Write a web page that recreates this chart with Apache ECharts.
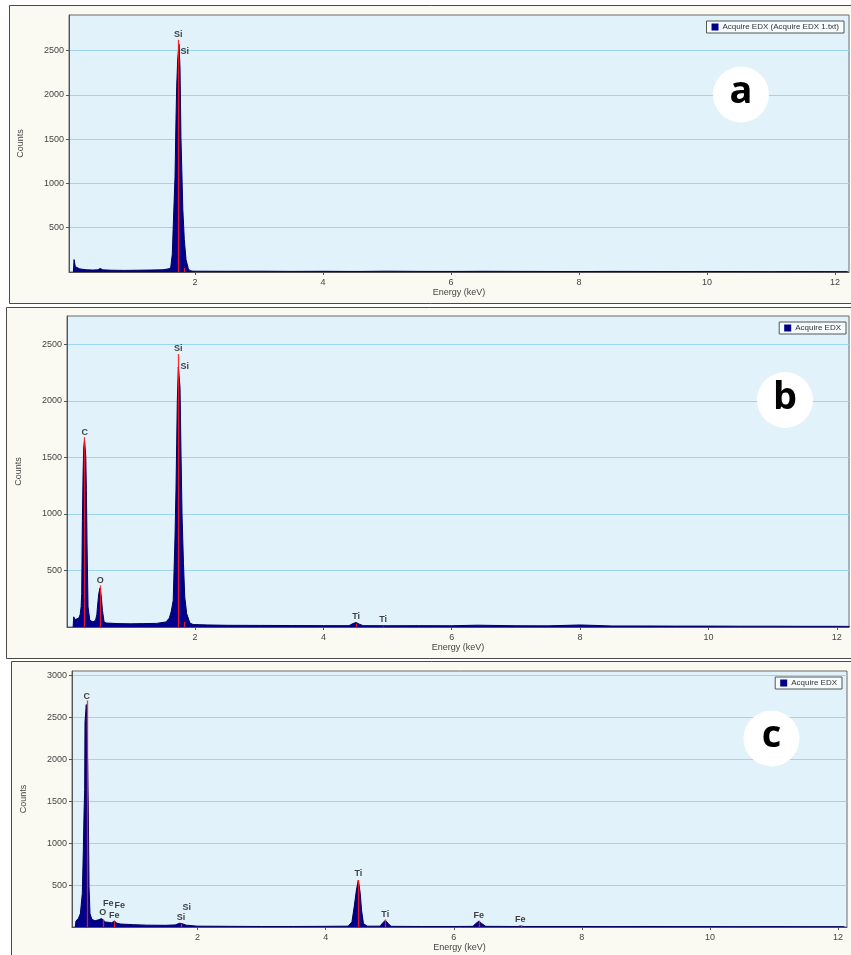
<!DOCTYPE html>
<html><head><meta charset="utf-8">
<script src="https://cdn.jsdelivr.net/npm/echarts@6/dist/echarts.min.js"></script>
<style>html,body{margin:0;padding:0;background:#fff}#c{width:851px;height:955px}</style>
</head><body><div id="c"></div>
<script>
// ---------- Panel a ----------
const energyA = [0.10,0.11,0.13,0.16,0.20,0.30,0.40,0.48,0.52,0.56,0.70,0.90,1.10,1.30,1.50,1.58,1.62,1.645,1.66,1.688,1.703,1.714,1.73,1.75,1.766,1.78,1.81,1.833,1.86,1.895,1.92,1.96,2.0,2.5,3.0,3.5,4.0,4.5,5.0,5.5,6.0,6.5,7.0,7.5,8.0,8.5,9.0,9.5,10.0,10.5,11.0,11.5,12.0,12.2];
const countA  = [0,140,60,40,35,25,22,24,40,24,20,18,20,22,25,35,45,200,515,1080,1720,2095,2404,2570,2302,1530,703,365,139,40,15,10,9,8,9,7,8,6,9,7,6,8,7,6,5,7,6,5,6,5,4,5,4,4];
const lineEnergyA = [1.74, 1.836];
const lineHeightA = [2620, 45];
const labelTextA = ['Si','Si'];
const labelEnergyA = [1.74, 1.84];
const labelCountA = [2680, 2490];

// ---------- Panel b ----------
const energyB = [0.10,0.11,0.13,0.16,0.19,0.21,0.225,0.234,0.245,0.255,0.266,0.278,0.297,0.307,0.318,0.333,0.36,0.41,0.45,0.47,0.48,0.50,0.52,0.54,0.557,0.583,0.62,0.80,1.00,1.20,1.40,1.55,1.60,1.63,1.66,1.688,1.703,1.714,1.724,1.74,1.755,1.766,1.78,1.797,1.82,1.84,1.87,1.92,1.97,2.2,2.5,3.0,3.5,4.0,4.4,4.46,4.51,4.56,4.62,5.0,5.5,6.0,6.4,7.0,7.5,8.0,8.5,9.0,9.5,10.0,10.5,11.0,11.5,12.0,12.2];
const countB  = [0,90,65,70,80,110,180,297,942,1340,1590,1650,1517,1208,707,177,60,45,60,110,177,295,345,265,147,44,35,30,28,30,32,45,80,140,236,795,1208,1620,2003,2300,2293,2120,1590,1001,560,265,118,35,22,18,15,14,13,12,12,30,40,25,12,11,12,11,16,11,10,18,9,9,8,8,7,7,6,6,5];
const lineEnergyB = [0.277, 0.525, 1.74, 1.836, 4.51, 4.93];
const lineHeightB = [1678, 368, 2415, 44, 30, 6];
const labelTextB = ['C','O','Si','Si','Ti','Ti'];
const labelEnergyB = [0.28, 0.525, 1.74, 1.84, 4.51, 4.93];
const labelCountB = [1722, 412, 2465, 2306, 95, 65];

// ---------- Panel c ----------
const energyC = [0.09,0.10,0.14,0.17,0.20,0.216,0.227,0.237,0.242,0.262,0.284,0.294,0.305,0.32,0.35,0.40,0.45,0.50,0.53,0.56,0.62,0.66,0.70,0.74,0.80,1.00,1.20,1.50,1.65,1.72,1.76,1.82,2.0,2.5,3.0,3.5,4.0,4.35,4.41,4.445,4.48,4.51,4.54,4.56,4.59,4.65,4.85,4.88,4.93,4.98,5.02,5.5,6.0,6.3,6.34,6.39,6.44,6.5,7.0,7.04,7.1,8.0,8.5,9.0,9.5,10.0,10.5,11.0,11.5,12.0,12.1];
const countC  = [0,70,104,160,400,920,1360,1640,2440,2650,1940,1360,480,160,90,75,85,100,95,60,55,50,72,45,35,28,22,20,25,45,40,22,10,8,6,6,8,10,60,240,440,560,400,200,40,10,10,40,80,40,8,6,6,8,40,68,40,8,6,12,6,6,5,6,5,5,4,5,4,4,4];
const lineEnergyC = [0.277, 0.525, 0.705, 1.74, 4.51, 4.93, 6.40, 7.06];
const lineHeightC = [2698, 90, 70, 40, 560, 90, 75, 12];
const labelTextC = ['C','O','Fe','Fe','Fe','Si','Si','Ti','Ti','Fe','Fe'];
const labelEnergyC = [0.27, 0.52, 0.606, 0.70, 0.784, 1.74, 1.83, 4.51, 4.93, 6.39, 7.04];
const labelCountC = [2746, 168, 280, 140, 260, 108, 232, 632, 152, 140, 89];

// ---------- Axes / legends ----------
const xTicks = [2, 4, 6, 8, 10, 12];
const yTicks = [500, 1000, 1500, 2000, 2500, 3000];
const legendNames = ['Acquire EDX (Acquire EDX 1.txt)', 'Acquire EDX', 'Acquire EDX'];
const panelLetters = ['a', 'b', 'c'];
const yMax = [2900, 2750, 3050];
const xRange = [[0.031, 12.22], [0.005, 12.19], [0.039, 12.14]];

const panels = [
  {e: energyA, c: countA, le: lineEnergyA, lh: lineHeightA, lt: labelTextA, lx: labelEnergyA, ly: labelCountA},
  {e: energyB, c: countB, le: lineEnergyB, lh: lineHeightB, lt: labelTextB, lx: labelEnergyB, ly: labelCountB},
  {e: energyC, c: countC, le: lineEnergyC, lh: lineHeightC, lt: labelTextC, lx: labelEnergyC, ly: labelCountC}
];

const gridPos = [
  {left: 69, top: 15, width: 780, height: 257},
  {left: 67, top: 316, width: 782, height: 311},
  {left: 72, top: 671, width: 775, height: 256}
];
const FONT = 'Liberation Sans';
const NAVY = '#00008b';

const option = {
  animation: false,
  backgroundColor: '#ffffff',
  textStyle: {fontFamily: FONT},
  grid: gridPos.map(g => Object.assign({show: true, backgroundColor: '#e1f2fb', borderColor: '#6b6b6b', borderWidth: 1, containLabel: false}, g)),
  xAxis: panels.map((p, i) => ({
    type: 'value', gridIndex: i, min: xRange[i][0], max: xRange[i][1],
    name: 'Energy (keV)', nameLocation: 'middle', nameGap: 16,
    nameTextStyle: {fontSize: 9, color: '#444', fontFamily: FONT},
    axisLine: {show: true, lineStyle: {color: '#555'}},
    axisTick: {show: true, length: 3, lineStyle: {color: '#555'}, customValues: xTicks},
    axisLabel: {fontSize: 9, color: '#444', margin: 6, customValues: xTicks},
    splitLine: {show: false}
  })),
  yAxis: panels.map((p, i) => ({
    type: 'value', gridIndex: i, min: 0, max: yMax[i], interval: 500,
    name: 'Counts', nameLocation: 'middle', nameGap: 44, nameRotate: 90,
    nameTextStyle: {fontSize: 9, color: '#444', fontFamily: FONT},
    axisLine: {show: true, lineStyle: {color: '#555'}},
    axisTick: {show: true, length: 3, lineStyle: {color: '#555'}, customValues: yTicks.filter(v => v < yMax[i])},
    axisLabel: {fontSize: 9, color: '#444', margin: 5,
      formatter: v => (v > 0 && v % 500 === 0) ? String(v) : ''},
    splitLine: {show: true, lineStyle: {color: '#9ed5ee', width: 1.2}}
  })),
  legend: legendNames.map((n, i) => ({
    data: [n], right: [7, 5, 9][i], top: [21, 322, 677][i],
    orient: 'horizontal', icon: 'rect', itemWidth: 7, itemHeight: 7, itemGap: 4,
    padding: [2, 5, 2, 5], backgroundColor: '#f6fbfd', borderColor: '#555', borderWidth: 1,
    borderRadius: 0, selectedMode: false,
    textStyle: {fontSize: 8, color: '#333', fontFamily: FONT, padding: [0, 0, 0, -1]}
  })),
  series: []
};

panels.forEach((p, i) => {
  option.series.push({
    name: legendNames[i], type: 'line', xAxisIndex: i, yAxisIndex: i,
    data: p.e.map((e, k) => [e, p.c[k]]),
    showSymbol: false, symbol: 'none', smooth: false,
    lineStyle: {color: '#000060', width: 1},
    itemStyle: {color: NAVY},
    areaStyle: {color: NAVY, opacity: 1},
    markLine: {
      silent: true, symbol: 'none', animation: false,
      lineStyle: {color: '#ff1a1a', width: 1.3, type: 'solid', opacity: 0.9},
      label: {show: false},
      data: p.le.map((e, k) => [{coord: [e, 0]}, {coord: [e, p.lh[k]]}])
    },
    z: 2
  });
  option.series.push({
    name: 'labels' + i, type: 'scatter', xAxisIndex: i, yAxisIndex: i,
    symbolSize: 0, silent: true,
    data: p.lt.map((t, k) => ({name: t, value: [p.lx[k], p.ly[k]]})),
    label: {show: true, position: 'inside', formatter: '{b}', fontSize: 9, fontWeight: 'bold', color: '#111', fontFamily: FONT},
    z: 5
  });
});

// frames & panel letters
const frames = [
  {x: 9, y: 5, w: 860, h: 298},
  {x: 6, y: 307, w: 860, h: 351},
  {x: 11, y: 661, w: 860, h: 310}
];
const circles = [[741, 94.5], [785, 400], [771.5, 738.5]];
option.graphic = {elements: [].concat(
  frames.map(f => ({type: 'rect', z: -100, shape: {x: f.x + 0.5, y: f.y + 0.5, width: f.w, height: f.h},
    style: {fill: '#fafaf3', stroke: '#4a4a4a', lineWidth: 1}})),
  circles.map((c, i) => ({type: 'circle', z: 100, shape: {cx: c[0], cy: c[1], r: 28}, style: {fill: '#ffffff'}})),
  circles.map((c, i) => ({type: 'text', z: 101, x: c[0], y: c[1] - 2,
    style: {text: panelLetters[i], font: 'bold 38px "Open Sans"', fill: '#000', align: 'center', verticalAlign: 'middle'}}))
)};

const chart = echarts.init(document.getElementById('c'), null, {renderer: 'canvas'});
chart.setOption(option);
</script></body></html>
